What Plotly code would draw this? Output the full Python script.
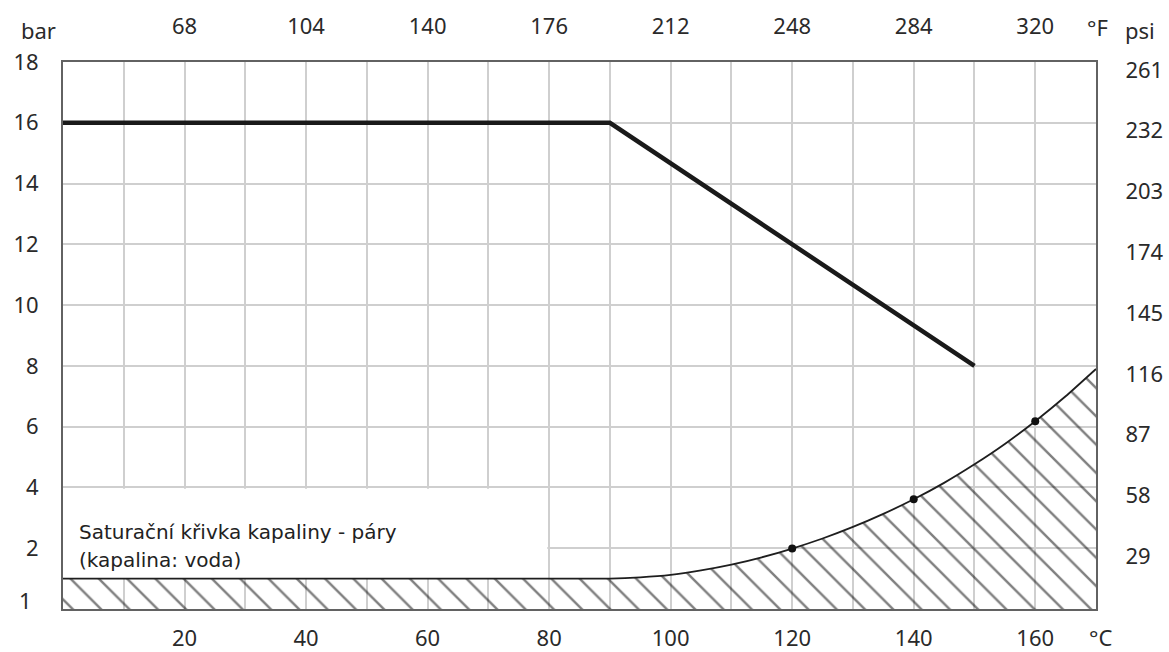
import plotly.graph_objects as go

# ---- data ----
# max operating pressure (bar) vs temperature (°C)
pmax_t = [0, 90, 150]
pmax_p = [16, 16, 8]

# liquid-vapour saturation curve (water), bar
sat_t = [0, 90, 95, 100, 105, 110, 115, 120, 125, 130, 135, 140, 145, 150, 155, 160, 165, 170]
sat_p = [1.0, 1.0, 1.04, 1.12, 1.27, 1.46, 1.70, 1.99, 2.32, 2.70, 3.13, 3.61, 4.15, 4.76, 5.43, 6.18, 7.0, 7.9]

# marked points on saturation curve
dot_t = [120, 140, 160]
dot_p = [1.99, 3.61, 6.18]

# axis ticks
x_grid = [10, 20, 30, 40, 50, 60, 70, 80, 90, 100, 110, 120, 130, 140, 150, 160]
x_text = ["", "20", "", "40", "", "60", "", "80", "", "100", "", "120", "", "140", "", "160"]
f_vals = [20, 40, 60, 80, 100, 120, 140, 160]
f_text = ["68", "104", "140", "176", "212", "248", "284", "320"]
bar_vals = [2, 4, 6, 8, 10, 12, 14, 16, 18]
bar_text = ["2", "4", "6", "8", "10", "12", "14", "16", "18"]
psi_text = ["29", "58", "87", "116", "145", "174", "203", "232", "261"]
low_label = "1"

note_lines = ["Saturační křivka kapaliny - páry", "(kapalina: voda)"]

TICKFONT = dict(family="Noto Sans", size=22, color="#2a2a2a")
GRID = "#cfcfcf"
FRAME = "#626262"

fig = go.Figure()

# hatched saturation region
fig.add_trace(go.Scatter(
    x=sat_t, y=sat_p, mode="lines", line=dict(color="#1e1e1e", width=1.8, shape="spline", smoothing=0.5),
    fill="tozeroy", fillcolor="rgba(0,0,0,0)",
    fillpattern=dict(shape="\\", size=20, solidity=0.12, fgcolor="#000000", bgcolor="rgba(0,0,0,0)"),
    hoverinfo="skip", showlegend=False))

fig.add_trace(go.Scatter(
    x=dot_t, y=dot_p, mode="markers", marker=dict(color="#111", size=8),
    hoverinfo="skip", showlegend=False))

# max pressure line
fig.add_trace(go.Scatter(
    x=pmax_t, y=pmax_p, mode="lines", line=dict(color="#1a1a1a", width=4.5),
    hoverinfo="skip", showlegend=False))

# invisible trace for secondary axes
fig.add_trace(go.Scatter(
    x=pmax_t, y=pmax_p, xaxis="x2", yaxis="y2", mode="lines",
    line=dict(color="rgba(0,0,0,0)", width=0), hoverinfo="skip", showlegend=False))

# white box behind the note
fig.add_shape(type="rect", xref="x", yref="y", x0=0, x1=79.7, y0=1.0, y1=3.96,
              fillcolor="white", line=dict(width=0), layer="between")

note_font = dict(family="DejaVu Sans", size=20, color="#222")
fig.add_annotation(x=2.3, y=2.53, xref="x", yref="y", text=note_lines[0], showarrow=False,
                   xanchor="left", yanchor="middle", font=note_font)
fig.add_annotation(x=2.3, y=1.62, xref="x", yref="y", text=note_lines[1], showarrow=False,
                   xanchor="left", yanchor="middle", font=note_font)

# unit labels and low tick
unit_font = dict(family="Noto Sans", size=22, color="#2a2a2a")
fig.add_annotation(x=-0.024, y=1.058, xref="paper", yref="paper", text="bar", showarrow=False,
                   xanchor="center", yanchor="middle", font=unit_font)
fig.add_annotation(x=1.001, y=1.064, xref="paper", yref="paper", text="°F", showarrow=False,
                   xanchor="center", yanchor="middle", font=unit_font)
fig.add_annotation(x=1.043, y=1.058, xref="paper", yref="paper", text="psi", showarrow=False,
                   xanchor="center", yanchor="middle", font=unit_font)
fig.add_annotation(x=1.004, y=-0.051, xref="paper", yref="paper", text="°C", showarrow=False,
                   xanchor="center", yanchor="middle", font=unit_font)
fig.add_annotation(x=-0.036, y=0.3, xref="paper", yref="y", text=low_label, showarrow=False,
                   xanchor="center", yanchor="middle", font=TICKFONT)

fig.update_layout(
    width=1169, height=652, autosize=False,
    margin=dict(l=63, r=73, t=62, b=43, pad=0),
    paper_bgcolor="white", plot_bgcolor="white",
    showlegend=False,
    xaxis=dict(range=[0, 170], tickmode="array", tickvals=x_grid, ticktext=x_text, automargin=False,
               showgrid=True, gridcolor=GRID, gridwidth=1.5, zeroline=False,
               showline=True, linecolor=FRAME, linewidth=2, mirror=True,
               ticks="outside", ticklen=9, tickcolor="rgba(0,0,0,0)", tickfont=TICKFONT),
    yaxis=dict(range=[0, 18], tickmode="array", tickvals=bar_vals, ticktext=bar_text, automargin=False,
               showgrid=True, gridcolor=GRID, gridwidth=1.5, zeroline=False,
               showline=True, linecolor=FRAME, linewidth=2, mirror=True,
               ticks="outside", ticklen=18, tickcolor="rgba(0,0,0,0)", tickfont=TICKFONT),
    xaxis2=dict(range=[0, 170], overlaying="x", side="top", anchor="y2", tickmode="array", automargin=False,
                tickvals=f_vals, ticktext=f_text, showgrid=False, zeroline=False, showline=False,
                ticks="outside", ticklen=18, tickcolor="rgba(0,0,0,0)", tickfont=TICKFONT),
    yaxis2=dict(range=[0, 18], overlaying="y", side="right", anchor="x2", tickmode="array", automargin=False,
                tickvals=bar_vals, ticktext=psi_text, showgrid=False, zeroline=False, showline=False,
                ticks="outside", ticklen=24, tickcolor="rgba(0,0,0,0)", tickfont=TICKFONT,
                ticklabelshift=8),
)

fig.write_html("out.html", config={"displayModeBar": False},
               post_script="document.body.style.margin='0';")
